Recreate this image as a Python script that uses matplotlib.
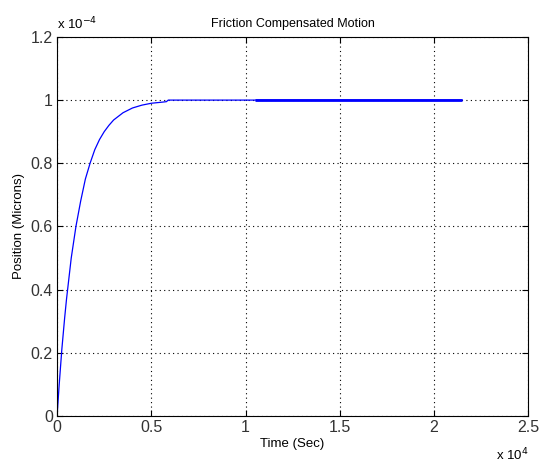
import matplotlib.pyplot as plt
from matplotlib.ticker import FuncFormatter

plt.rcParams['font.family'] = ['Liberation Sans', 'DejaVu Sans']

# response curve (time in s, position in microns)
time = [0, 100, 250, 400, 500, 750, 1000, 1250, 1500, 1750, 2000, 2250, 2500,
        2750, 3000, 3500, 4000, 4500, 5000, 5500, 5800, 5900, 8000, 10500,
        15000, 21500]
position = [0, 0.09e-4, 0.21e-4, 0.31e-4, 0.37e-4, 0.50e-4, 0.60e-4, 0.68e-4,
            0.75e-4, 0.80e-4, 0.843e-4, 0.875e-4, 0.90e-4, 0.92e-4, 0.937e-4,
            0.96e-4, 0.975e-4, 0.984e-4, 0.990e-4, 0.993e-4, 0.995e-4,
            1.0e-4, 1.0e-4, 1.0e-4, 1.0e-4, 1.0e-4]

# overlapping flat segment drawn heavier on the right
hold_time = [10500, 21500]
hold_pos = [1.0e-4, 1.0e-4]

fig = plt.figure(figsize=(5.49, 4.62), dpi=100)
ax = fig.add_axes([0.104, 0.0996, 0.858, 0.8205])

ax.plot(time, position, color='#0000ff', lw=0.9)
ax.plot(hold_time, hold_pos, color='#0000ff', lw=2.0, solid_capstyle='butt')

ax.set_xlim(0, 2.5e4)
ax.set_ylim(0, 1.2e-4)
ax.set_xticks([0, 0.5e4, 1e4, 1.5e4, 2e4, 2.5e4])
ax.set_yticks([0, 0.2e-4, 0.4e-4, 0.6e-4, 0.8e-4, 1.0e-4, 1.2e-4])
ax.xaxis.set_major_formatter(FuncFormatter(lambda v, p: f'{v / 1e4:g}'))
ax.yaxis.set_major_formatter(FuncFormatter(lambda v, p: f'{v / 1e-4:g}'))

ax.grid(True, color='black', linestyle=(0, (1, 3)), lw=0.8)
ax.tick_params(direction='in', length=4, labelsize=11.5, top=True, right=True,
               labelcolor='#333333', pad=3)
for s in ax.spines.values():
    s.set_linewidth(0.8)

ax.set_title('Friction Compensated Motion', fontsize=9, pad=7)
ax.set_xlabel('Time (Sec)', fontsize=9.5, labelpad=2)
ax.set_ylabel('Position (Microns)', fontsize=9.5, labelpad=4)

ax.text(0.0, 1.012, r'x 10$^{-4}$', transform=ax.transAxes, fontsize=9.5,
        ha='left', va='bottom')
ax.text(1.0, -0.08, r'x 10$^{4}$', transform=ax.transAxes, fontsize=9.5,
        ha='right', va='top')

fig.savefig('out.png', dpi=100)
